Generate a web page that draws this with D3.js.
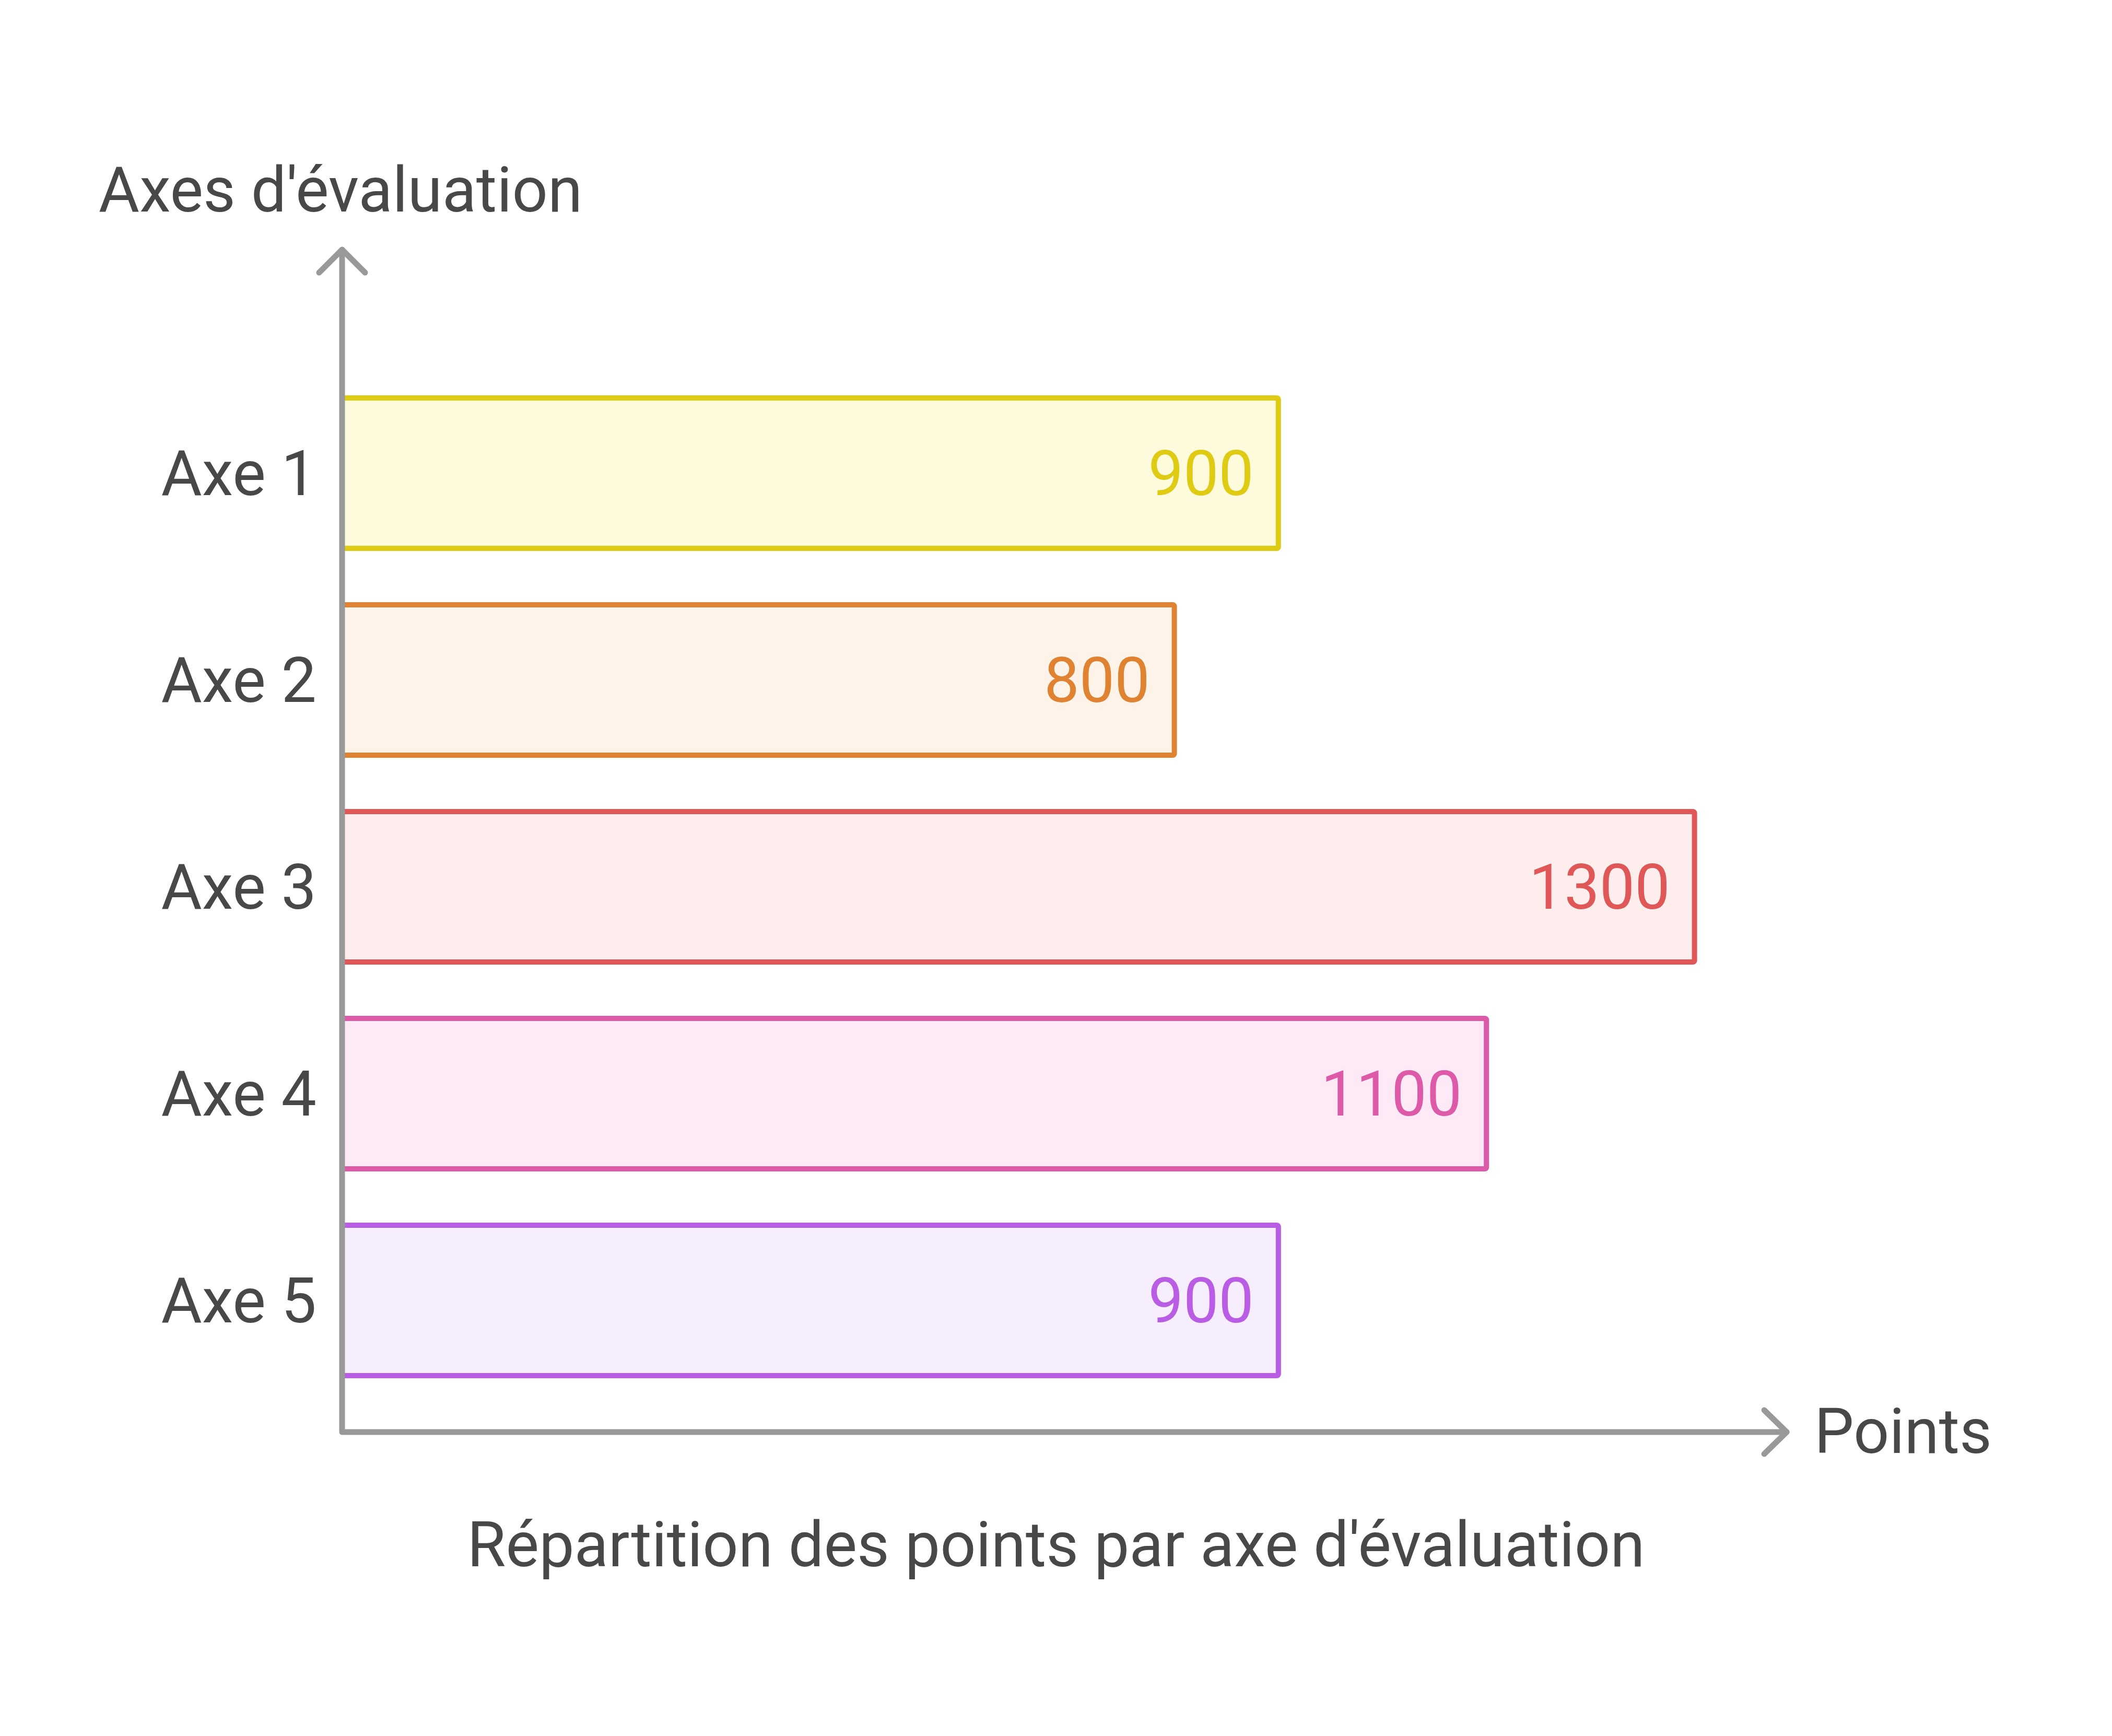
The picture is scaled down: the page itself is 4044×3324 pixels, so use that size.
<!DOCTYPE html>
<html>
<head>
<meta charset="utf-8">
<script src="https://cdn.jsdelivr.net/npm/d3@7"></script>
<style>
  html, body { margin: 0; padding: 0; background: #ffffff; }
  svg { display: block; }
  text { font-family: Roboto, "Noto Sans", sans-serif; }
</style>
</head>
<body>
<svg id="chart" width="4044" height="3324"></svg>
<script>
document.addEventListener("DOMContentLoaded", function () {

  var categories = ["Axe 1", "Axe 2", "Axe 3", "Axe 4", "Axe 5"];
  var values = [900, 800, 1300, 1100, 900];
  var strokeColors = ["#dfca14", "#df8332", "#e05757", "#dd5aa8", "#b95de4"];
  var fillColors = ["#fefadc", "#fdf3e8", "#fdeded", "#fdeaf6", "#f7eefd"];

  var yTitle = "Axes d'évaluation";
  var xTitle = "Points";
  var caption = "Répartition des points par axe d'évaluation";

  var W = 4044, H = 3324;
  var originX = 655, originY = 2742;
  var axisTop = 478, axisRight = 3421;
  var textColor = "#484848";
  var axisColor = "#999999";
  var fontSize = 120;

  var x = d3.scaleLinear()
    .domain([0, 1300])
    .range([originX, originX + 1300 * 1.992]);

  var y = d3.scaleBand()
    .domain(categories)
    .range([708, 2688])
    .paddingInner(0.2727)
    .paddingOuter(0.1364);

  var data = categories.map(function (c, i) {
    return { cat: c, value: values[i], stroke: strokeColors[i], fill: fillColors[i] };
  });

  var svg = d3.select("#chart");

  // bars
  svg.append("g")
    .selectAll("rect")
    .data(data)
    .enter()
    .append("rect")
    .attr("x", x(0))
    .attr("y", function (d) { return y(d.cat); })
    .attr("width", function (d) { return x(d.value) - x(0); })
    .attr("height", y.bandwidth())
    .attr("rx", 3)
    .attr("fill", function (d) { return d.fill; })
    .attr("stroke", function (d) { return d.stroke; })
    .attr("stroke-width", 10)
    .attr("stroke-linejoin", "round");

  // value labels inside bars
  svg.append("g")
    .selectAll("text")
    .data(data)
    .enter()
    .append("text")
    .attr("x", function (d) { return x(d.value) - 47; })
    .attr("y", function (d) { return y(d.cat) + y.bandwidth() / 2 + 42; })
    .attr("text-anchor", "end")
    .attr("font-size", fontSize)
    .attr("fill", function (d) { return d.stroke; })
    .text(function (d) { return d.value; });

  // category labels
  svg.append("g")
    .selectAll("text")
    .data(data)
    .enter()
    .append("text")
    .attr("x", originX - 49)
    .attr("y", function (d) { return y(d.cat) + y.bandwidth() / 2 + 42; })
    .attr("text-anchor", "end")
    .attr("font-size", fontSize)
    .attr("fill", textColor)
    .text(function (d) { return d.cat; });

  // axes with arrowheads
  var axes = svg.append("g")
    .attr("fill", "none")
    .attr("stroke", axisColor)
    .attr("stroke-width", 11)
    .attr("stroke-linecap", "round")
    .attr("stroke-linejoin", "round");

  axes.append("path")
    .attr("d", "M" + originX + "," + axisTop + "L" + originX + "," + originY + "L" + axisRight + "," + originY);

  axes.append("path")
    .attr("d", "M" + (originX - 44) + "," + (axisTop + 44) + "L" + originX + "," + axisTop + "L" + (originX + 44) + "," + (axisTop + 44));

  axes.append("path")
    .attr("d", "M" + (axisRight - 43) + "," + (originY - 42) + "L" + axisRight + "," + originY + "L" + (axisRight - 43) + "," + (originY + 42));

  // axis titles
  svg.append("text")
    .attr("x", originX - 3)
    .attr("y", 405)
    .attr("text-anchor", "middle")
    .attr("font-size", fontSize)
    .attr("fill", textColor)
    .text(yTitle);

  svg.append("text")
    .attr("x", axisRight + 53)
    .attr("y", originY + 40)
    .attr("text-anchor", "start")
    .attr("font-size", fontSize)
    .attr("fill", textColor)
    .text(xTitle);

  // caption
  svg.append("text")
    .attr("x", W / 2)
    .attr("y", 2999)
    .attr("text-anchor", "middle")
    .attr("font-size", fontSize)
    .attr("fill", textColor)
    .text(caption);

});
</script>
</body>
</html>
